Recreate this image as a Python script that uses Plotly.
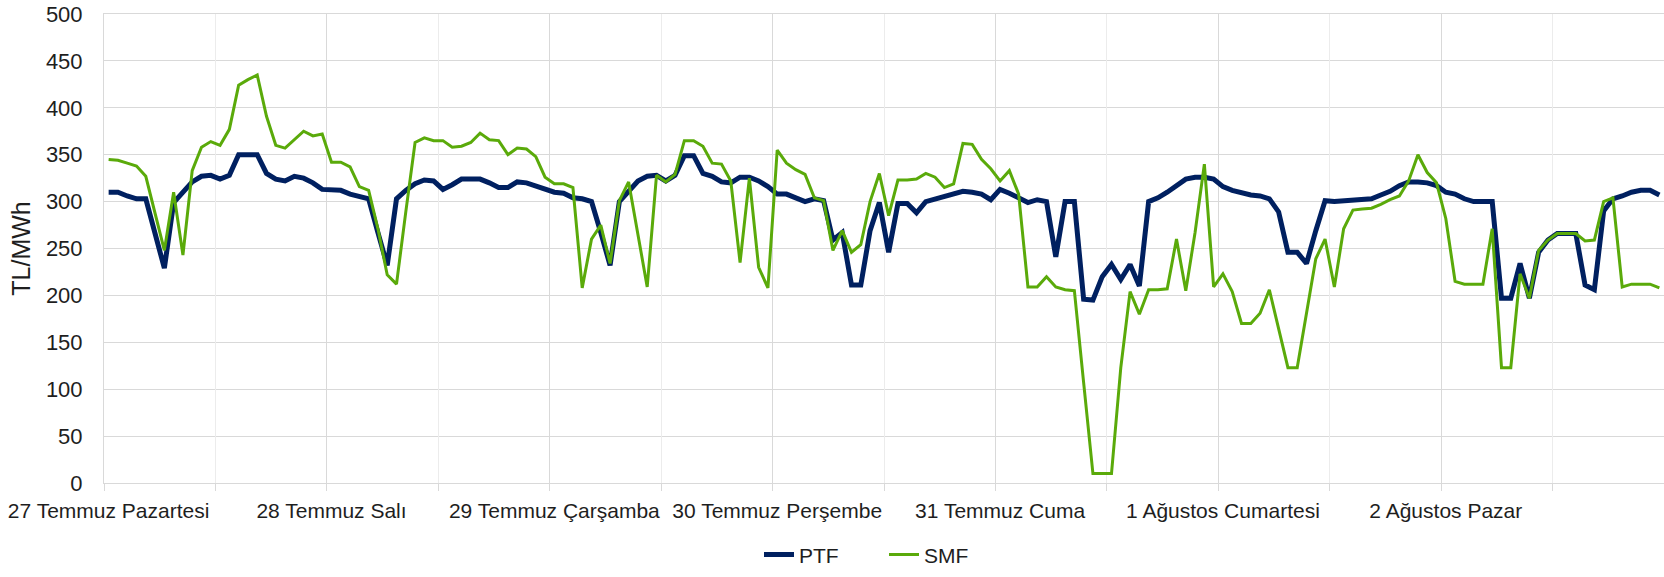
import plotly.graph_objects as go

day_labels = ["27 Temmuz Pazartesi", "28 Temmuz Salı", "29 Temmuz Çarşamba", "30 Temmuz Perşembe",
              "31 Temmuz Cuma", "1 Ağustos Cumartesi", "2 Ağustos Pazar"]

ptf = [
    310, 310, 306, 303, 303, 267, 229, 299, 311, 321, 327, 328, 324, 328, 350, 350, 350, 330, 324, 322, 327, 325, 320, 313,
    312, 312, 308, 305, 303, 267, 232, 303, 312, 319, 323, 322, 313, 318, 324, 324, 324, 320, 315, 315, 321, 320, 317, 313,
    310, 309, 304, 303, 300, 267, 232, 300, 311, 322, 327, 328, 322, 328, 349, 349, 330, 327, 321, 320, 326, 326, 322, 316,
    308, 308, 304, 300, 303, 301, 259, 267, 211, 211, 269, 299, 246, 298, 298, 288, 300, 303, 306, 309, 311, 310, 308, 302,
    313, 309, 304, 299, 302, 300, 241, 300, 300, 196, 195, 220, 233, 217, 233, 210, 300, 304, 310, 317, 324, 326, 326, 324,
    316, 312, 309, 307, 306, 303, 289, 246, 246, 234, 269, 301, 300, 301, 302, 303, 303, 307, 311, 317, 321, 321, 320, 317,
    310, 308, 303, 300, 300, 300, 197, 197, 234, 197, 246, 259, 266, 266, 266, 211, 206, 290, 303, 306, 310, 312, 312, 307,
]

smf = [
    345, 344, 341, 338, 327, 289, 248, 310, 243, 333, 358, 364, 360, 377, 424, 430, 435, 391, 360, 357, 366, 375, 370, 372,
    342, 342, 337, 316, 312, 271, 222, 212, 289, 363, 368, 365, 365, 358, 359, 363, 373, 366, 365, 350, 357, 356, 348, 326,
    319, 319, 315, 208, 260, 275, 234, 301, 321, 264, 209, 328, 321, 329, 365, 365, 359, 341, 340, 322, 235, 325, 230, 208,
    355, 341, 334, 329, 304, 301, 248, 269, 246, 254, 300, 330, 285, 323, 323, 324, 330, 326, 315, 319, 362, 361, 345, 335,
    322, 333, 308, 209, 209, 220, 209, 206, 205, 107, 10, 10, 10, 123, 204, 180, 206, 206, 207, 260, 205, 267, 340, 209,
    223, 204, 170, 170, 181, 206, 165, 123, 123, 179, 239, 260, 209, 271, 291, 292, 293, 297, 302, 306, 322, 350, 331, 320,
    282, 215, 212, 212, 212, 271, 123, 123, 223, 197, 248, 259, 266, 266, 266, 258, 259, 300, 304, 209, 212, 212, 212, 208,
]

hours = list(range(len(ptf)))
n = len(hours)
day_starts = [24 * k for k in range(len(day_labels))]
day_bounds = [d - 0.5 for d in day_starts]
mid_bounds = [d + 11.5 for d in day_starts]

FONT = "Liberation Sans, Arial, sans-serif"
TXT = "#1e1e1e"
GRID = "#d9d9d9"

fig = go.Figure()
fig.add_trace(go.Scatter(x=hours, y=ptf, mode="lines", name="PTF",
                         line=dict(color="#002060", width=5), xaxis="x", yaxis="y"))
fig.add_trace(go.Scatter(x=hours, y=smf, mode="lines", name="SMF",
                         line=dict(color="#5aaa0a", width=3), xaxis="x2", yaxis="y"))

xr = [-0.5, n - 0.5]
fig.update_layout(
    width=1664, height=577,
    margin=dict(l=104, r=0, t=14, b=94),
    paper_bgcolor="white", plot_bgcolor="white",
    font=dict(family=FONT, size=21, color=TXT),
    showlegend=True,
    legend=dict(orientation="h", x=0.5, xanchor="center", y=-0.153, yanchor="middle",
                font=dict(size=21, color=TXT), entrywidth=80, traceorder="normal"),
    xaxis=dict(range=xr, tickmode="array", tickvals=day_starts, ticktext=day_labels,
               showgrid=False, zeroline=False, ticks="", showline=True, mirror=True, linecolor=GRID,
               ticklabelstandoff=9, ticklabeloverflow="allow", automargin=False,
               tickfont=dict(size=21, color=TXT),
               minor=dict(tickmode="array", tickvals=day_bounds, showgrid=True, gridcolor=GRID,
                          gridwidth=1, ticks="outside", ticklen=7, tickcolor=GRID, tickwidth=1)),
    xaxis2=dict(range=xr, overlaying="x", matches="x", side="bottom", tickmode="array",
                tickvals=mid_bounds, showticklabels=False, showgrid=True, gridcolor="#ececec",
                gridwidth=1, ticks="outside", ticklen=7, tickcolor=GRID, zeroline=False, showline=False,
                automargin=False),
    yaxis=dict(range=[0, 500], dtick=50, tick0=0, showgrid=True, gridcolor=GRID, gridwidth=1,
               zeroline=False, showline=True, linecolor=GRID, ticks="", ticklabelstandoff=16,
               ticklabeloverflow="allow", automargin=False,
               tickfont=dict(size=22, color=TXT),
               title=dict(text="TL/MWh", font=dict(size=25, color=TXT), standoff=8)),
)

fig.write_html("out.html", config={"displayModeBar": False},
               post_script="document.body.style.margin='0';")
